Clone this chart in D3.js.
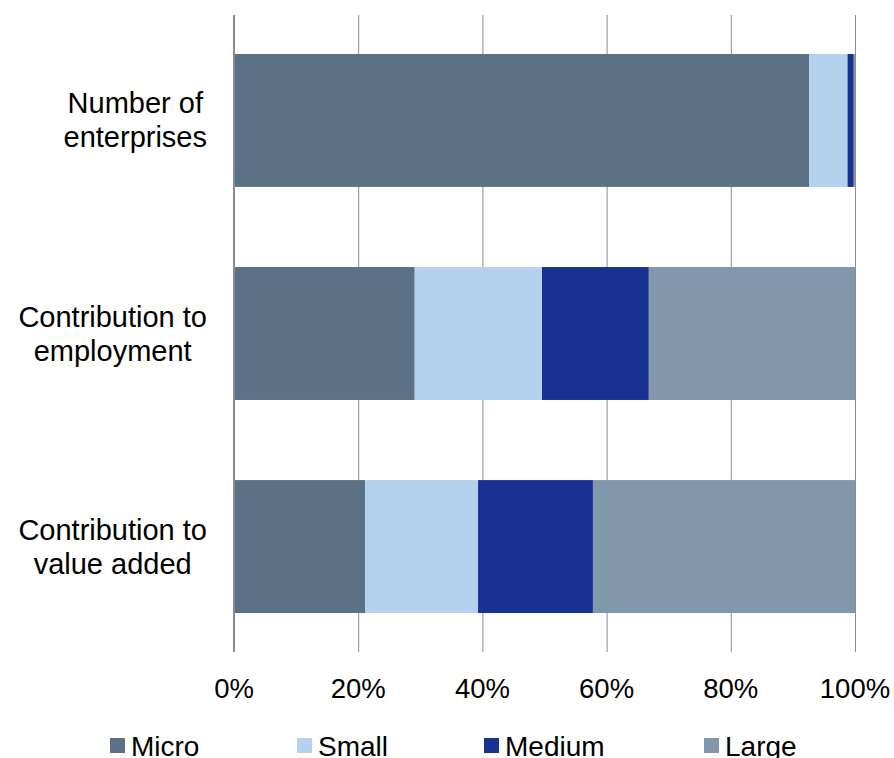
<!DOCTYPE html>
<html>
<head>
<meta charset="utf-8">
<script src="https://cdnjs.cloudflare.com/ajax/libs/d3/7.8.5/d3.min.js"></script>
<style>
  body { margin: 0; background: #fff; }
  svg { display: block; font-family: "Liberation Sans", Arial, sans-serif; }
</style>
</head>
<body>
<div id="chart"></div>
<script>
const categories = ["Number of\nenterprises", "Contribution to\nemployment", "Contribution to\nvalue added"];
const seriesNames = ["Micro", "Small", "Medium", "Large"];
const micro = [92.6, 29.1, 21.1];
const small = [6.2, 20.5, 18.2];
const medium = [1.0, 17.2, 18.5];
const large = [0.2, 33.2, 42.2];
const tickValues = [0, 20, 40, 60, 80, 100];
const colors = ["#5b7186", "#b4d1ee", "#1a3194", "#8197ab"];

const width = 894, height = 758;
const plot = {left: 234, right: 855, top: 15, bottom: 652};

const svg = d3.select("#chart").append("svg")
  .attr("width", width)
  .attr("height", height);

const rows = categories.map((c, i) => ({
  cat: c, Micro: micro[i], Small: small[i], Medium: medium[i], Large: large[i]
}));
const stacked = d3.stack().keys(seriesNames)(rows);

const x = d3.scaleLinear().domain([0, 100]).range([plot.left, plot.right]);
const y = d3.scaleBand().domain(categories)
  .range([plot.top, plot.bottom]).paddingInner(0.376).paddingOuter(0.183);

const color = d3.scaleOrdinal().domain(seriesNames).range(colors);

// grid lines
svg.append("g")
  .attr("transform", `translate(0,${plot.bottom})`)
  .call(d3.axisBottom(x).tickValues(tickValues).tickSize(-(plot.bottom - plot.top)).tickFormat(""))
  .call(g => g.select(".domain").remove())
  .selectAll("line")
  .attr("stroke", "#8c8c8c")
  .attr("stroke-width", 1);

// bars
svg.append("g").selectAll("g")
  .data(stacked)
  .enter().append("g")
  .attr("fill", d => color(d.key))
  .selectAll("rect")
  .data(d => d)
  .enter().append("rect")
  .attr("x", d => x(d[0]))
  .attr("y", d => y(d.data.cat))
  .attr("width", d => x(d[1]) - x(d[0]))
  .attr("height", y.bandwidth());

// 0% axis line
svg.append("line")
  .attr("x1", x(0)).attr("x2", x(0))
  .attr("y1", plot.top).attr("y2", plot.bottom)
  .attr("stroke", "#8c8c8c")
  .attr("stroke-width", 2);

// x tick labels
svg.append("g").selectAll("text")
  .data(tickValues)
  .enter().append("text")
  .attr("x", d => x(d))
  .attr("y", 698)
  .attr("text-anchor", "middle")
  .attr("font-size", 27.5)
  .attr("fill", "#000")
  .text(d => d + "%");

// category labels: lines centred, block right edge near the axis
const labelRight = 207;
const catLabels = svg.append("g").selectAll("text")
  .data(categories)
  .enter().append("text")
  .attr("text-anchor", "middle")
  .attr("font-size", 29)
  .attr("fill", "#000");
catLabels.each(function(d) {
  const lines = d.split("\n");
  const cy = y(d) + y.bandwidth() / 2;
  const spans = d3.select(this).selectAll("tspan")
    .data(lines)
    .enter().append("tspan")
    .attr("y", (l, i) => cy + 10 + (i - (lines.length - 1) / 2) * 34)
    .text(l => l);
  let maxW = 0;
  spans.each(function() { maxW = Math.max(maxW, this.getComputedTextLength()); });
  spans.attr("x", labelRight - maxW / 2);
});

// legend
const legendX = [110, 297, 484, 704];
const legend = svg.append("g").selectAll("g")
  .data(seriesNames)
  .enter().append("g")
  .attr("transform", (d, i) => `translate(${legendX[i]},738)`);
legend.append("rect")
  .attr("width", 15).attr("height", 15)
  .attr("fill", d => color(d));
legend.append("text")
  .attr("x", 21)
  .attr("y", 18)
  .attr("font-size", 28)
  .attr("fill", "#000")
  .text(d => d);
</script>
</body>
</html>
